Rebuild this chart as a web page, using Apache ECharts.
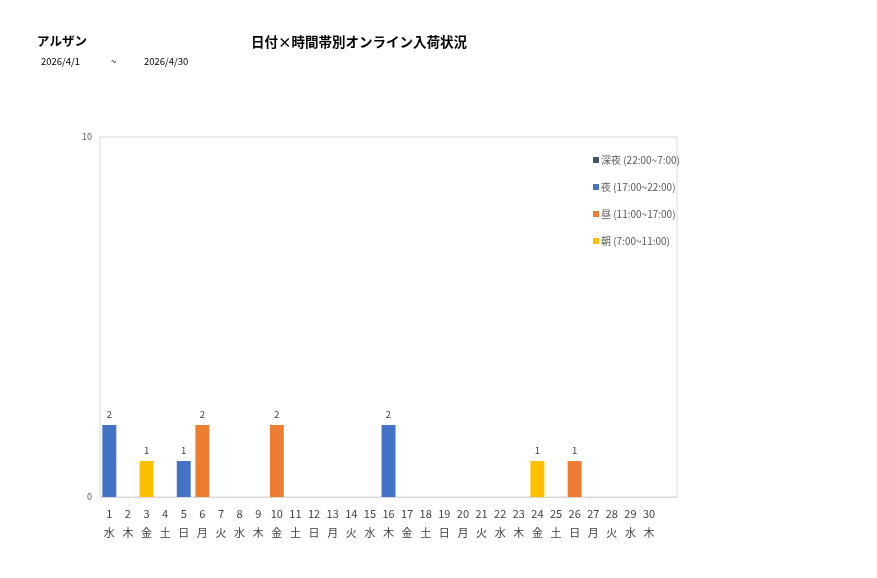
<!DOCTYPE html>
<html>
<head>
    <meta charset="UTF-8">
    <title>日付×時間帯別オンライン入荷状況</title>
    <script src="https://cdn.jsdelivr.net/npm/echarts@6.0.0/dist/echarts.min.js"></script>
    <style>
        html, body { margin: 0; padding: 0; background: #fff; }
        #chart { width: 877px; height: 578px; }
    </style>
</head>
<body>
    <div id="chart"></div>
    <script>
        // 日付と曜日 (末尾は空の枠)
        const days = ['1','2','3','4','5','6','7','8','9','10','11','12','13','14','15',
                      '16','17','18','19','20','21','22','23','24','25','26','27','28','29','30',''];
        const weekdays = ['水','木','金','土','日','月','火','水','木','金','土','日','月','火','水',
                          '木','金','土','日','月','火','水','木','金','土','日','月','火','水','木',''];

        // 時間帯別の件数 (0 は null)
        const shinya = [null,null,null,null,null,null,null,null,null,null,null,null,null,null,null,
                        null,null,null,null,null,null,null,null,null,null,null,null,null,null,null];
        const yoru   = [2,null,null,null,1,null,null,null,null,null,null,null,null,null,null,
                        2,null,null,null,null,null,null,null,null,null,null,null,null,null,null];
        const hiru   = [null,null,null,null,null,2,null,null,null,2,null,null,null,null,null,
                        null,null,null,null,null,null,null,null,null,null,1,null,null,null,null];
        const asa    = [null,null,1,null,null,null,null,null,null,null,null,null,null,null,null,
                        null,null,null,null,null,null,null,null,1,null,null,null,null,null,null];

        const seriesNames = ['深夜 (22:00~7:00)', '夜 (17:00~22:00)', '昼 (11:00~17:00)', '朝 (7:00~11:00)'];
        const seriesColors = ['#44546A', '#4472C4', '#ED7D31', '#FFC000'];

        const chart = echarts.init(document.getElementById('chart'));
        const font = "'Noto Sans CJK JP', 'Noto Sans', sans-serif";

        const categories = days.map((d, i) => d + '\n' + weekdays[i]);

        function makeSeries(name, data, color) {
            return {
                name: name,
                type: 'bar',
                stack: 'total',
                barWidth: '75%',
                data: data,
                itemStyle: { color: color },
                label: {
                    show: true,
                    position: 'top',
                    distance: 6,
                    fontSize: 9.5,
                    color: '#404040',
                    fontFamily: font
                }
            };
        }

        const titleStyle = { fontSize: 13.5, fontWeight: 'bold', color: '#000', fontFamily: font };
        const subStyle = { fontSize: 9.5, fontWeight: 'normal', color: '#000', fontFamily: font };

        const option = {
            animation: false,
            textStyle: { fontFamily: font },
            title: [
                { text: 'アルザン', left: 37, top: 35, padding: 0,
                  textStyle: Object.assign({}, titleStyle, { fontSize: 12.5 }) },
                { text: '日付×時間帯別オンライン入荷状況', left: 251, top: 35, padding: 0, textStyle: titleStyle },
                { text: '2026/4/1', left: 41, top: 57, padding: 0, textStyle: subStyle },
                { text: '~', left: 111, top: 57, padding: 0, textStyle: subStyle },
                { text: '2026/4/30', left: 144, top: 57, padding: 0, textStyle: subStyle }
            ],
            legend: {
                orient: 'vertical',
                left: 588,
                top: 150,
                itemWidth: 6,
                itemHeight: 6,
                itemGap: 17,
                icon: 'rect',
                textStyle: { fontSize: 10, color: '#595959', padding: [0, 0, 0, -3] },
                data: seriesNames
            },
            grid: {
                left: 100, right: 200, top: 137, bottom: 81,
                show: true,
                borderColor: '#d9d9d9',
                borderWidth: 1
            },
            xAxis: {
                type: 'category',
                data: categories,
                axisLine: { lineStyle: { color: '#d9d9d9' } },
                axisTick: { show: false },
                axisLabel: {
                    interval: 0,
                    margin: 7,
                    fontSize: 11,
                    lineHeight: 19,
                    color: '#404040'
                }
            },
            yAxis: {
                type: 'value',
                min: 0,
                max: 10,
                interval: 10,
                axisLine: { show: false },
                axisTick: { show: false },
                splitLine: { show: false },
                axisLabel: { fontSize: 9, color: '#595959', margin: 8 }
            },
            series: [
                makeSeries(seriesNames[0], shinya, seriesColors[0]),
                makeSeries(seriesNames[1], yoru, seriesColors[1]),
                makeSeries(seriesNames[2], hiru, seriesColors[2]),
                makeSeries(seriesNames[3], asa, seriesColors[3])
            ]
        };

        chart.setOption(option);
    </script>
</body>
</html>
